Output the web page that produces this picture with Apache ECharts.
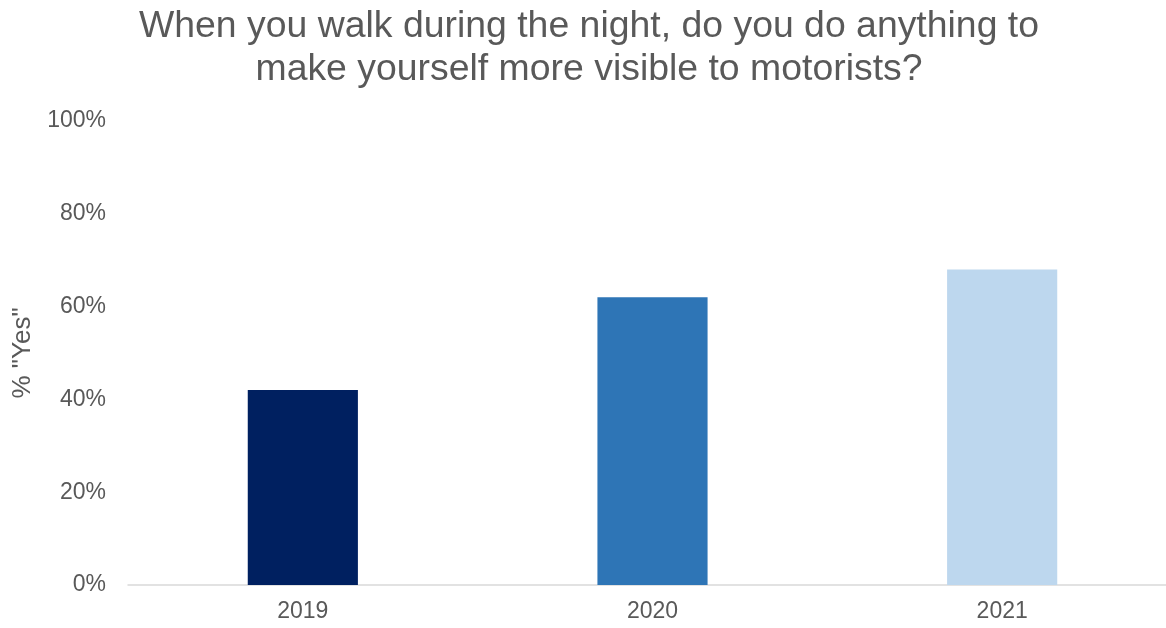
<!DOCTYPE html>
<html>
<head>
<meta charset="utf-8">
<script src="https://cdn.jsdelivr.net/npm/echarts@6/dist/echarts.min.js"></script>
<style>
  html, body { margin: 0; padding: 0; background: #ffffff; overflow: hidden; }
  #chart { width: 1166px; height: 628px; }
</style>
</head>
<body>
<div id="chart"></div>
<script>
const titleText = 'When you walk during the night, do you do anything to\nmake yourself more visible to motorists?';
const years = ['2019', '2020', '2021'];
const yesShare = [42, 62, 68];
const barColors = ['#002060', '#2E75B6', '#BDD7EE'];
const yTicks = [0, 20, 40, 60, 80, 100];

const font = 'Liberation Sans, Arial, sans-serif';
const textGrey = '#595959';

const chart = echarts.init(document.getElementById('chart'));
chart.setOption({
  animation: false,
  backgroundColor: '#ffffff',
  title: {
    text: titleText,
    left: 584,
    textAlign: 'center',
    top: 0,
    textStyle: {
      fontFamily: font,
      fontSize: 37.4,
      fontWeight: 'normal',
      color: textGrey,
      lineHeight: 43
    }
  },
  // plot area runs past the right edge of the canvas, so the last band is clipped
  grid: {
    left: 128, width: 1049, top: 121, bottom: 43,
    containLabel: false,
    outerBoundsMode: 'none'
  },
  xAxis: {
    type: 'category',
    data: years,
    axisLine: { lineStyle: { color: '#D9D9D9', width: 1.5 } },
    axisTick: { show: false },
    axisLabel: {
      margin: 15,
      fontFamily: font,
      fontSize: 23,
      color: textGrey
    }
  },
  yAxis: {
    type: 'value',
    min: yTicks[0],
    max: yTicks[yTicks.length - 1],
    interval: 20,
    name: '% "Yes"',
    nameLocation: 'middle',
    nameGap: 92,
    nameRotate: 90,
    nameTextStyle: {
      fontFamily: font,
      fontSize: 26,
      color: textGrey
    },
    axisLine: { show: false },
    axisTick: { show: false },
    splitLine: { show: false },
    axisLabel: {
      margin: 22,
      padding: [3, 0, 0, 0],
      formatter: v => v + '%',
      fontFamily: font,
      fontSize: 23,
      color: textGrey
    }
  },
  series: [{
    type: 'bar',
    barWidth: '31.5%',
    data: yesShare.map((v, i) => ({ value: v, itemStyle: { color: barColors[i] } }))
  }]
});
</script>
</body>
</html>
